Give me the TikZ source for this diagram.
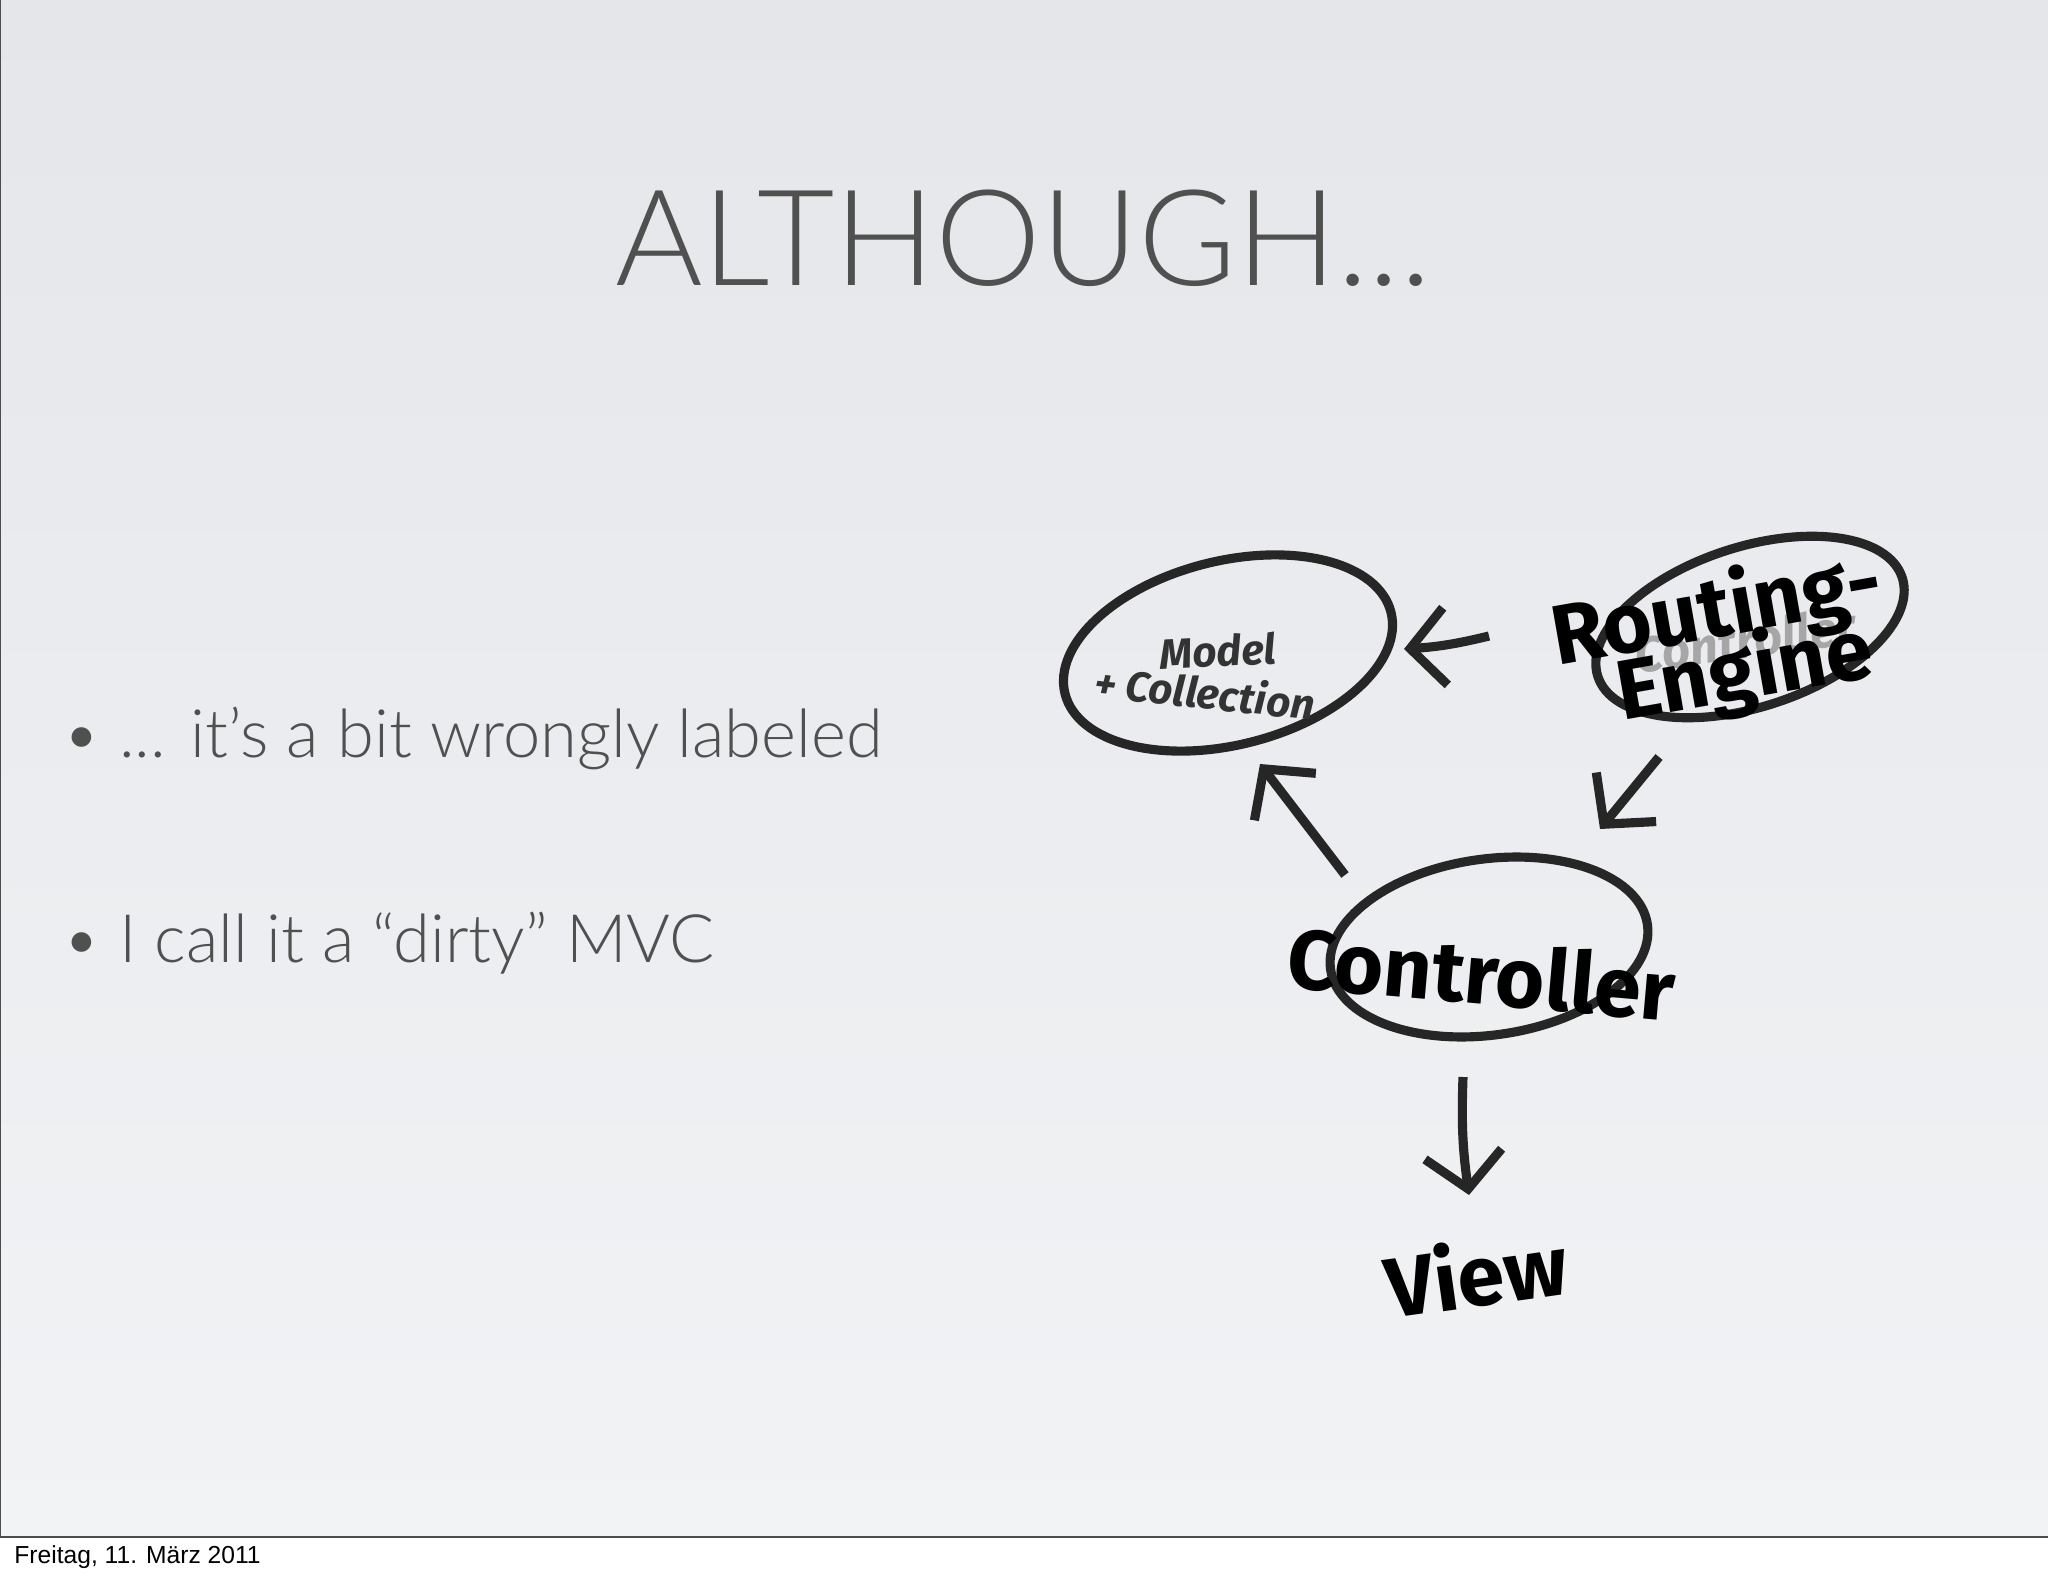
\documentclass[tikz,border=0pt]{standalone}
\usepackage{fontspec}
\setmainfont{Lato Light}
\newfontfamily\fira{Fira Sans}
\newfontfamily\arialf{Liberation Sans}
\usetikzlibrary{arrows.meta}
\definecolor{bgtop}{HTML}{E4E6EA}
\definecolor{bgbot}{HTML}{F2F3F5}
\definecolor{txt}{HTML}{505050}
\tikzset{
 hand/.style={line width=2.6pt, draw=black!85},
 harrow/.style={hand, -{Straight Barb[length=10pt,width=22pt,line width=2.6pt]}},
 big/.style={font=\fira\bfseries\fontsize{24}{24}\selectfont, text=black},
 small/.style={font=\fira\bfseries\itshape\fontsize{12}{12}\selectfont, text=black!80},
}
\begin{document}
\begin{tikzpicture}[x=0.01cm,y=-0.01cm]
\useasboundingbox (0,0) rectangle (2048,1576);
\shade[top color=bgtop,bottom color=bgbot] (0,0) rectangle (2048,1537);
\fill[white] (0,1537) rectangle (2048,1576);
\draw[black!70,line width=0.8pt] (0,0) -- (0,1537) -- (2048,1537);
\node[text=txt,font=\fontsize{38}{38}\selectfont] (title) at (1023,238) {ALTHOUGH...};
\node[text=txt,anchor=west,font=\fontsize{19}{19}\selectfont] (b1) at (50,738) {\textbullet\ ... it’s a bit wrongly labeled};
\node[text=txt,anchor=west,font=\fontsize{19}{19}\selectfont] (b2) at (50,943) {\textbullet\ I call it a “dirty” MVC};
\node[anchor=west,font=\arialf\fontsize{7}{7}\selectfont] (foot) at (2,1557) {Freitag, 11. März 2011};
% ellipses
\draw[hand,rotate around={14:(1228,653)}] (1228,653) ellipse [x radius=168,y radius=92];
\draw[hand,rotate around={18:(1750,627)}] (1750,627) ellipse [x radius=160,y radius=80];
\draw[hand,rotate around={8:(1489,947)}] (1489,947) ellipse [x radius=160,y radius=88];
% faint label
\node[text=black!35,font=\fira\bfseries\itshape\fontsize{14}{14}\selectfont,rotate=8] (fc) at (1745,640) {Controller};
% arrows
\coordinate (ra) at (1489,636); \coordinate (rb) at (1404,649);
\coordinate (rc) at (1659,757); \coordinate (rd) at (1600,829);
\coordinate (ca) at (1345,875); \coordinate (cb) at (1260,764);
\coordinate (cc) at (1463,1077); \coordinate (cd) at (1469,1195);
\draw[harrow] (ra) to[bend left=5] (rb);
\draw[harrow] (rc) -- (rd);
\draw[harrow] (ca) -- (cb);
\draw[harrow] (cc) to[bend right=5] (cd);
% labels
\node[small,rotate=3] (model) at (1218,651) {Model};
\node[small,rotate=-6] (coll) at (1205,692) {+ Collection};
\node[big,rotate=10] (rout) at (1717,612) {Routing-};
\node[big,rotate=10] (eng) at (1745,674) {Engine};
\node[big,rotate=-5] (ctrl) at (1482,973) {Controller};
\node[big,rotate=8] (view) at (1476,1273) {View};
\end{tikzpicture}
\end{document}
